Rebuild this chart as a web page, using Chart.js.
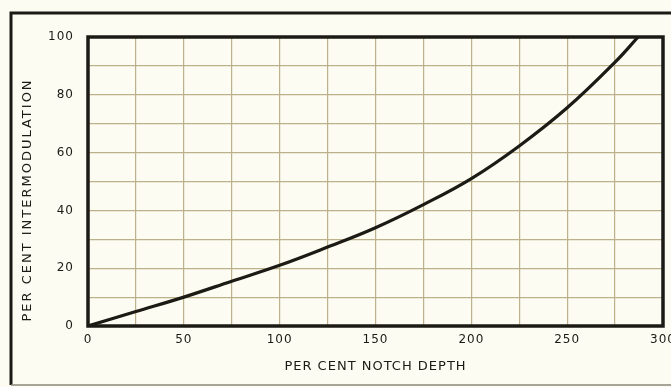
<!DOCTYPE html>
<html>
<head>
<meta charset="utf-8">
<script src="https://cdn.jsdelivr.net/npm/chart.js@4/dist/chart.umd.min.js"></script>
<style>
html,body{margin:0;padding:0;background:#fcfcf2;}
#wrap{width:671px;height:387px;}
</style>
</head>
<body>
<div id="wrap"><canvas id="imChart" width="671" height="387"></canvas></div>
<script>

/* notch depth vs intermodulation, both in per cent */
const notchDepth = [0, 25, 50, 75, 100, 125, 150, 175, 200, 225, 250, 275, 287]
const intermod   = [0, 5, 10, 15.5, 21, 27.3, 34, 42, 51, 62.3, 75.5, 91.3, 100]

const xTickLabels = [0, 50, 100, 150, 200, 250, 300]
const yTickLabels = [0, 20, 40, 60, 80, 100]

const xTitle = "PER CENT NOTCH DEPTH"
const yTitle = "PER CENT INTERMODULATION"

const ink = "#1b1a14"
const gridTan = "#bdb18c"
const tickFont = {family:"DejaVu Sans", size:12}

/* outer frame, plot border and rotated y title */
const framePlugin = {
id:"frame",
beforeDraw(chart){
const ctx = chart.ctx
ctx.save()
ctx.fillStyle = "#fcfcf2"
ctx.fillRect(0,0,chart.width,chart.height)
ctx.strokeStyle = ink
ctx.lineWidth = 3
ctx.beginPath()
ctx.moveTo(chart.width+5,13)
ctx.lineTo(11,13)
ctx.lineTo(11,385)
ctx.stroke()
ctx.strokeStyle = "#8a887a"
ctx.lineWidth = 1.5
ctx.beginPath()
ctx.moveTo(11,385)
ctx.lineTo(chart.width+5,385)
ctx.stroke()
ctx.restore()
chart.ctx.letterSpacing = "1px"
},
afterDraw(chart){
const ctx = chart.ctx
const a = chart.chartArea
ctx.save()
ctx.strokeStyle = ink
ctx.lineWidth = 3.5
ctx.strokeRect(a.left,a.top,a.right-a.left,a.bottom-a.top)
ctx.translate(28,200)
ctx.rotate(-Math.PI/2)
ctx.letterSpacing = "2px"
ctx.fillStyle = ink
ctx.font = "13px 'DejaVu Sans'"
ctx.textAlign = "center"
ctx.textBaseline = "middle"
ctx.fillText(yTitle,0,0)
ctx.restore()
}
}

new Chart(
document.getElementById("imChart"),
{
type:"line",
data:{
datasets:[
{
label:"Intermodulation",
data:notchDepth.map((x,i)=>({x:x,y:intermod[i]})),
borderColor:ink,
borderWidth:3.2,
pointRadius:0,
tension:0.4,
fill:false
}
]
},
options:{
animation:false,
responsive:false,
layout:{padding:{top:37,right:8,bottom:0,left:0}},
plugins:{legend:{display:false},tooltip:{enabled:false}},
scales:{
x:{
type:"linear",
min:0,
max:300,
border:{display:false},
grid:{color:gridTan,lineWidth:1.2,drawTicks:false},
ticks:{
stepSize:25,
padding:7,
color:ink,
font:tickFont,
maxRotation:0,
callback:v=>xTickLabels.includes(v)?String(v):""
},
title:{
display:true,
text:xTitle,
color:ink,
font:{family:"DejaVu Sans",size:13},
padding:{top:0,bottom:13}
},
afterFit(scale){
scale.height = 61
scale.paddingLeft = 0
scale.paddingRight = 0
}
},
y:{
min:0,
max:100,
border:{display:false},
grid:{color:gridTan,lineWidth:1.2,drawTicks:false},
ticks:{
stepSize:10,
padding:14,
color:ink,
font:tickFont,
callback:v=>yTickLabels.includes(v)?String(v):""
},
afterFit(scale){
scale.width = 88
scale.paddingTop = 0
scale.paddingBottom = 0
}
}
}
},
plugins:[framePlugin]
});

</script>
</body>
</html>
